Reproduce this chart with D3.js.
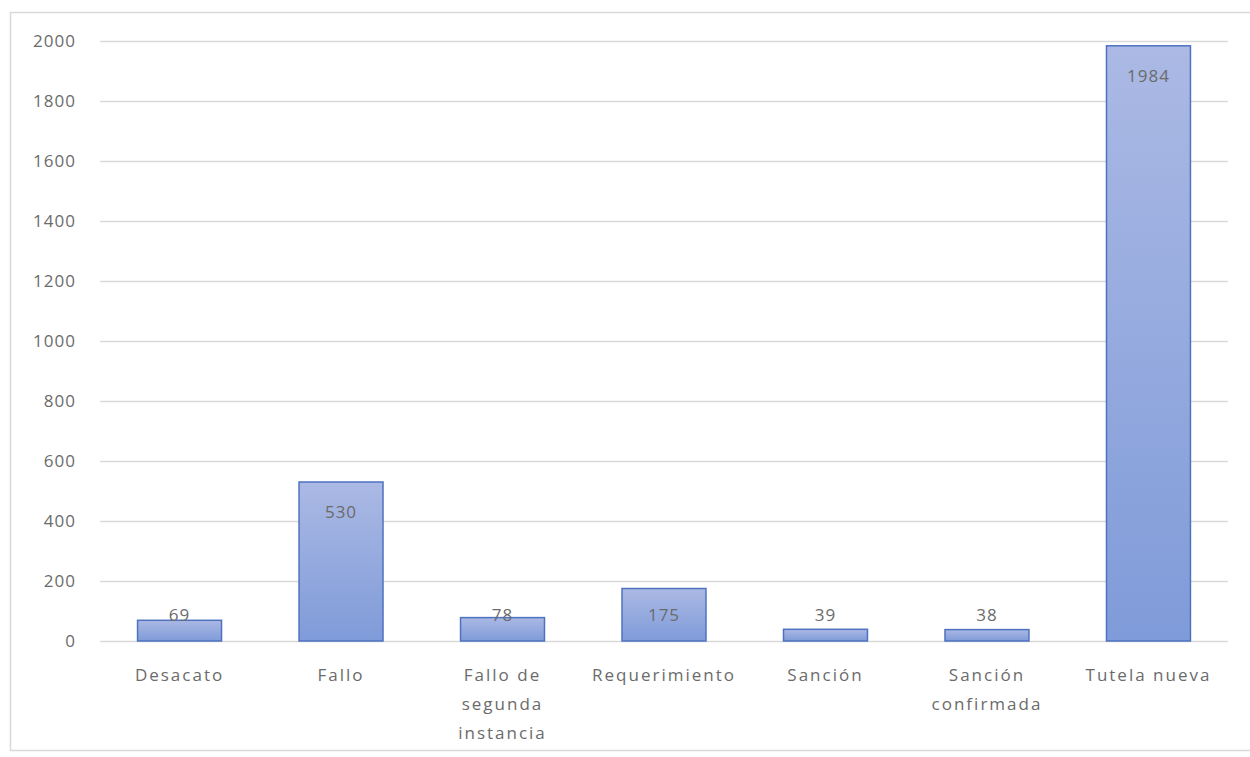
<!DOCTYPE html>
<html>
<head>
<meta charset="utf-8">
<script src="https://cdn.jsdelivr.net/npm/d3@7"></script>
<style>
  html, body { margin: 0; padding: 0; background: #ffffff; }
  svg { display: block; }
  text { font-family: "Open Sans", "Liberation Sans", sans-serif; fill: #6b6b6b; }
</style>
</head>
<body>
<svg id="chart" width="1250" height="757"></svg>
<script>
const categories = ["Desacato", "Fallo", "Fallo de segunda instancia", "Requerimiento", "Sanción", "Sanción confirmada", "Tutela nueva"];
const categoryLines = [["Desacato"], ["Fallo"], ["Fallo de", "segunda", "instancia"], ["Requerimiento"], ["Sanción"], ["Sanción", "confirmada"], ["Tutela nueva"]];
const values = [69, 530, 78, 175, 39, 38, 1984];
const yTicks = [0, 200, 400, 600, 800, 1000, 1200, 1400, 1600, 1800, 2000];

const svg = d3.select("#chart");

// outer chart border
svg.append("rect")
  .attr("x", 10.5).attr("y", 12.5)
  .attr("width", 1250).attr("height", 738)
  .attr("fill", "none").attr("stroke", "#d9d9d9").attr("stroke-width", 1.5);

const plot = { left: 100, right: 1228, top: 41, bottom: 641 };

const x = d3.scaleBand()
  .domain(categories)
  .range([plot.left, plot.right])
  .paddingInner(0.48)
  .paddingOuter(0.2325);

const y = d3.scaleLinear()
  .domain([0, 2000])
  .range([plot.bottom, plot.top]);

// gradient
const defs = svg.append("defs");
const grad = defs.append("linearGradient")
  .attr("id", "barGrad").attr("x1", 0).attr("y1", 0).attr("x2", 0).attr("y2", 1);
grad.append("stop").attr("offset", "0%").attr("stop-color", "#abb9e4");
grad.append("stop").attr("offset", "100%").attr("stop-color", "#7f9bd9");

// gridlines
svg.append("g")
  .selectAll("line")
  .data(yTicks)
  .join("line")
  .attr("x1", plot.left).attr("x2", plot.right)
  .attr("y1", d => Math.round(y(d)) + 0.5)
  .attr("y2", d => Math.round(y(d)) + 0.5)
  .attr("stroke", "#d9d9d9")
  .attr("stroke-width", 1.5);

// y axis labels
const yAxis = d3.axisLeft(y).tickValues(yTicks).tickFormat(d3.format("d")).tickSize(0).tickPadding(0);
const yg = svg.append("g")
  .attr("transform", `translate(${plot.left - 24},0)`)
  .call(yAxis);
yg.select(".domain").remove();
yg.selectAll("text")
  .attr("font-size", 17)
  .attr("letter-spacing", "1px")
  .attr("fill", "#6b6b6b")
  .style("font-family", "'Open Sans', sans-serif");

// bars
svg.append("g")
  .selectAll("rect")
  .data(values)
  .join("rect")
  .attr("x", (d, i) => x(categories[i]))
  .attr("y", d => y(d))
  .attr("width", x.bandwidth())
  .attr("height", d => y(0) - y(d))
  .attr("fill", "url(#barGrad)")
  .attr("stroke", "#4f72c0")
  .attr("stroke-width", 1.5);

// data labels
svg.append("g")
  .selectAll("text")
  .data(values)
  .join("text")
  .attr("x", (d, i) => x(categories[i]) + x.bandwidth() / 2)
  .attr("y", d => Math.min(y(d) + 30, y(0) - 26))
  .attr("dy", "0.35em")
  .attr("text-anchor", "middle")
  .attr("font-size", 17)
  .attr("letter-spacing", "1px")
  .attr("fill", "#6b6b6b")
  .text(d => d);

// x axis labels
const xg = svg.append("g");
categoryLines.forEach((lines, i) => {
  const t = xg.append("text")
    .attr("x", x(categories[i]) + x.bandwidth() / 2)
    .attr("y", 675)
    .attr("text-anchor", "middle")
    .attr("font-size", 17)
    .attr("letter-spacing", "2px")
    .attr("fill", "#6b6b6b");
  lines.forEach((ln, j) => {
    t.append("tspan")
      .attr("x", x(categories[i]) + x.bandwidth() / 2)
      .attr("y", 675 + j * 29)
      .attr("dy", "0.35em")
      .text(ln);
  });
});
</script>
</body>
</html>
